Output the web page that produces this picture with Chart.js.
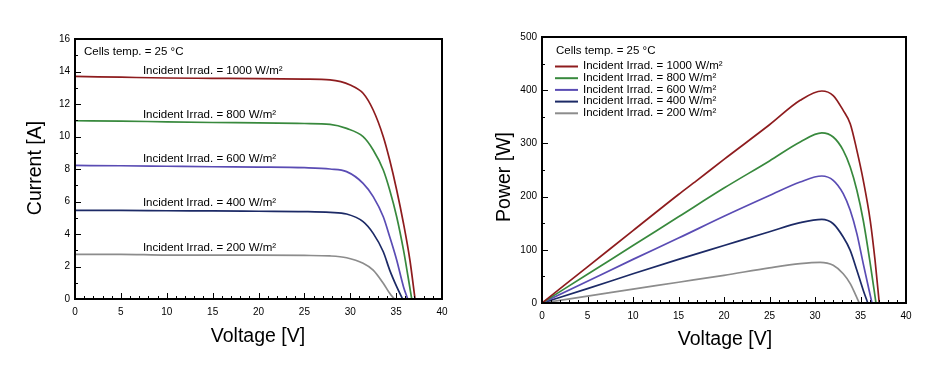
<!DOCTYPE html>
<html>
<head>
<meta charset="utf-8">
<title>PV module I-V and P-V curves</title>
<script src="https://cdn.jsdelivr.net/npm/chart.js@4.4.1/dist/chart.umd.min.js"></script>
<style>
  html, body { margin: 0; padding: 0; background: #fff; }
  #wrap { position: relative; width: 936px; height: 372px; }
  #wrap canvas { position: absolute; top: 0; }
  #iv { left: 0; }
  #pv { left: 468px; }
</style>
</head>
<body>
<div id="wrap">
  <canvas id="iv" width="468" height="372"></canvas>
  <canvas id="pv" width="468" height="372"></canvas>
</div>
<script>
// Values (25 °C cell temperature).

var irradLabels = ["1000", "800", "600", "400", "200"];
var xTickLabels = [0, 5, 10, 15, 20, 25, 30, 35, 40];
var ivTickLabels = [0, 2, 4, 6, 8, 10, 12, 14, 16];
var pvTickLabels = [0, 100, 200, 300, 400, 500];

// ---------- I-V curves (voltage [V] / current [A]) ----------
var ivVolt1000 = [0, 5, 10, 15, 20, 25, 27.8, 30.0, 31.4, 32.5, 33.6, 34.3, 35.06, 35.8, 36.5, 37.06];
var ivCurr1000 = [13.70, 13.65, 13.60, 13.58, 13.56, 13.53, 13.48, 13.17, 12.66, 11.63, 9.99, 8.55, 6.71, 4.66, 2.40, 0];

var ivVolt800 = [0, 5, 10, 15, 20, 25, 27.8, 29.6, 31.4, 32.5, 33.6, 34.3, 35.06, 35.8, 36.3, 36.7];
var ivCurr800 = [10.97, 10.95, 10.90, 10.86, 10.84, 10.80, 10.75, 10.50, 9.99, 9.17, 7.94, 6.71, 5.06, 3.02, 1.37, 0];

var ivVolt600 = [0, 5, 10, 15, 20, 25, 27.8, 29.6, 31.4, 32.5, 33.6, 34.3, 35.06, 35.8, 36.26];
var ivCurr600 = [8.22, 8.20, 8.17, 8.14, 8.12, 8.08, 8.00, 7.84, 7.12, 6.30, 5.06, 3.83, 2.40, 0.76, 0];

var ivVolt400 = [0, 5, 10, 15, 20, 25, 27.8, 29.6, 31.4, 32.5, 33.6, 34.3, 35.06, 35.7];
var ivCurr400 = [5.45, 5.45, 5.43, 5.42, 5.40, 5.38, 5.33, 5.23, 4.76, 4.04, 2.91, 1.78, 0.76, 0];

var ivVolt200 = [0, 5, 10, 15, 20, 25, 27.8, 29.6, 31.4, 32.5, 33.6, 34.3, 34.8];
var ivCurr200 = [2.75, 2.75, 2.70, 2.70, 2.70, 2.68, 2.65, 2.54, 2.20, 1.78, 0.97, 0.35, 0];

// ---------- P-V curves (voltage [V] / power [W]) ----------
var pvVolt1000 = [0, 5, 10, 15, 17, 20, 25, 28.37, 30.75, 32.0, 33.1, 33.87, 34.6, 35.3, 36.07, 36.6, 37.06];
var pvPow1000  = [0, 68, 136, 204, 230, 270, 335, 381, 398.5, 390, 362, 337, 287, 231, 155, 80, 0];

var pvVolt800 = [0, 5, 10, 15, 20, 25, 28.37, 30.75, 32.0, 33.1, 33.87, 34.6, 35.3, 36.07, 36.7];
var pvPow800  = [0, 54, 108, 162, 216, 267, 302.6, 319.6, 312, 287, 255.6, 211.8, 155.5, 74, 0];

var pvVolt600 = [0, 5, 10, 15, 20, 25, 28.37, 30.75, 32.0, 33.1, 33.87, 34.6, 35.3, 36.26];
var pvPow600  = [0, 41, 82, 122, 163, 202, 227.4, 238.7, 230.6, 205.6, 174.2, 130.4, 74, 0];

var pvVolt400 = [0, 5, 10, 15, 20, 25, 28.37, 30.75, 32.0, 33.1, 33.87, 34.6, 35.3, 35.8];
var pvPow400  = [0, 27, 55, 82, 108, 134, 151, 157.3, 149, 124, 99, 61.5, 24, 0];

var pvVolt200 = [0, 5, 10, 15, 20, 25, 28.37, 30.57, 32.0, 33.1, 33.87, 34.4, 34.86];
var pvPow200  = [0, 13, 26, 39, 52, 66, 74, 76.5, 70.9, 55, 36.5, 17.7, 0];

var colors = ["#8e1c1e", "#38893d", "#5a4cb4", "#1c2a66", "#8c8c8c"];
var FONT = "'Liberation Sans', Arial, Helvetica, sans-serif";

function pairs(xs, ys) {
  return xs.map(function (x, i) { return { x: x, y: ys[i] }; });
}

function series(volts, vals) {
  return volts.map(function (v, i) {
    return {
      label: "Incident Irrad. = " + irradLabels[i] + " W/m²",
      data: pairs(v, vals[i]),
      borderColor: colors[i],
      borderWidth: 1.7,
      pointRadius: 0,
      fill: false,
      cubicInterpolationMode: "monotone"
    };
  });
}

// Box frame, inward ticks, axis titles and the in-plot texts.
var decoPlugin = {
  id: "deco",
  afterDraw: function (chart) {
    var o = chart.options.plugins.deco;
    var ctx = chart.ctx;
    var a = chart.chartArea;
    var xs = chart.scales.x, ys = chart.scales.y;
    var v, p;

    ctx.save();
    ctx.strokeStyle = "#000";
    ctx.lineWidth = 1;
    ctx.beginPath();
    for (v = xs.min; v <= xs.max; v += o.xMinor) {
      p = Math.round(xs.getPixelForValue(v)) + 0.5;
      ctx.moveTo(p, a.bottom);
      ctx.lineTo(p, a.bottom - (v % o.xMajor === 0 ? 6 : 3));
    }
    for (v = ys.min; v <= ys.max; v += o.yMinor) {
      p = Math.round(ys.getPixelForValue(v)) + 0.5;
      ctx.moveTo(a.left, p);
      ctx.lineTo(a.left + (v % o.yMajor === 0 ? 6 : 3), p);
    }
    ctx.stroke();

    ctx.lineWidth = 2;
    ctx.strokeRect(a.left, a.top, a.right - a.left, a.bottom - a.top);

    // axis titles
    ctx.fillStyle = "#000";
    ctx.font = "19.5px " + FONT;
    ctx.textAlign = "center";
    ctx.textBaseline = "middle";
    ctx.fillText(o.xTitle.text, o.xTitle.x, o.xTitle.y);
    ctx.save();
    ctx.translate(o.yTitle.x, o.yTitle.y);
    ctx.rotate(-Math.PI / 2);
    ctx.fillText(o.yTitle.text, 0, 0);
    ctx.restore();

    ctx.font = "11.5px " + FONT;
    ctx.textAlign = "left";
    ctx.fillText("Cells temp. = 25 °C", o.note.x, o.note.y);

    var sets = chart.data.datasets;
    if (o.curveLabels) {
      sets.forEach(function (ds, i) {
        ctx.fillText(ds.label, xs.getPixelForValue(o.curveLabels.x), ys.getPixelForValue(o.curveLabels.y[i]));
      });
    }
    if (o.legend) {
      var L = o.legend;
      sets.forEach(function (ds, i) {
        var y = L.y + i * L.dy;
        ctx.strokeStyle = ds.borderColor;
        ctx.lineWidth = 2;
        ctx.beginPath();
        ctx.moveTo(L.x, y + 0.5);
        ctx.lineTo(L.x + L.len, y + 0.5);
        ctx.stroke();
        ctx.fillText(ds.label, L.textX, y);
      });
    }
    ctx.restore();
  }
};

function makeChart(canvas, cfg) {
  return new Chart(canvas, {
    type: "line",
    data: { datasets: cfg.datasets },
    options: {
      responsive: false,
      animation: false,
      devicePixelRatio: 1,
      layout: { padding: cfg.padding },
      plugins: { legend: { display: false }, tooltip: { enabled: false }, deco: cfg.deco },
      scales: {
        x: {
          type: "linear",
          min: 0,
          max: 40,
          grid: { display: false, drawTicks: false },
          border: { display: false },
          afterBuildTicks: function (s) {
            s.ticks = xTickLabels.map(function (v) { return { value: v }; });
          },
          ticks: { color: "#000", padding: 7, maxRotation: 0, font: { family: FONT, size: 10 } },
          afterFit: function (s) { s.height = cfg.xAxisHeight; }
        },
        y: {
          type: "linear",
          min: cfg.yTicks[0],
          max: cfg.yTicks[cfg.yTicks.length - 1],
          grid: { display: false, drawTicks: false },
          border: { display: false },
          afterBuildTicks: function (s) {
            s.ticks = cfg.yTicks.map(function (v) { return { value: v }; });
          },
          ticks: { color: "#000", padding: 5, font: { family: FONT, size: 10 } },
          afterFit: function (s) { s.width = cfg.yAxisWidth; }
        }
      }
    },
    plugins: [decoPlugin]
  });
}

// ---------- Current vs voltage ----------
makeChart(document.getElementById("iv"), {
  datasets: series(
    [ivVolt1000, ivVolt800, ivVolt600, ivVolt400, ivVolt200],
    [ivCurr1000, ivCurr800, ivCurr600, ivCurr400, ivCurr200]
  ),
  yTicks: ivTickLabels,
  padding: { left: 0, right: 26, top: 39, bottom: 0 },
  yAxisWidth: 75,
  xAxisHeight: 73,
  deco: {
    xMinor: 1, xMajor: 5, yMinor: 1, yMajor: 2,
    xTitle: { text: "Voltage [V]", x: 258, y: 337 },
    yTitle: { text: "Current [A]", x: 36, y: 168 },
    note: { x: 84, y: 52 },
    curveLabels: { x: 7.4, y: [14.05, 11.34, 8.6, 5.89, 3.16] }
  }
});

// ---------- Power vs voltage ----------
makeChart(document.getElementById("pv"), {
  datasets: series(
    [pvVolt1000, pvVolt800, pvVolt600, pvVolt400, pvVolt200],
    [pvPow1000, pvPow800, pvPow600, pvPow400, pvPow200]
  ),
  yTicks: pvTickLabels,
  padding: { left: 0, right: 30, top: 37, bottom: 0 },
  yAxisWidth: 74,
  xAxisHeight: 69,
  deco: {
    xMinor: 1, xMajor: 5, yMinor: 50, yMajor: 100,
    xTitle: { text: "Voltage [V]", x: 257, y: 340 },
    yTitle: { text: "Power [W]", x: 37, y: 177 },
    note: { x: 88, y: 51 },
    legend: { x: 87, len: 23, textX: 115, y: 66, dy: 11.7 }
  }
});
</script>
</body>
</html>
